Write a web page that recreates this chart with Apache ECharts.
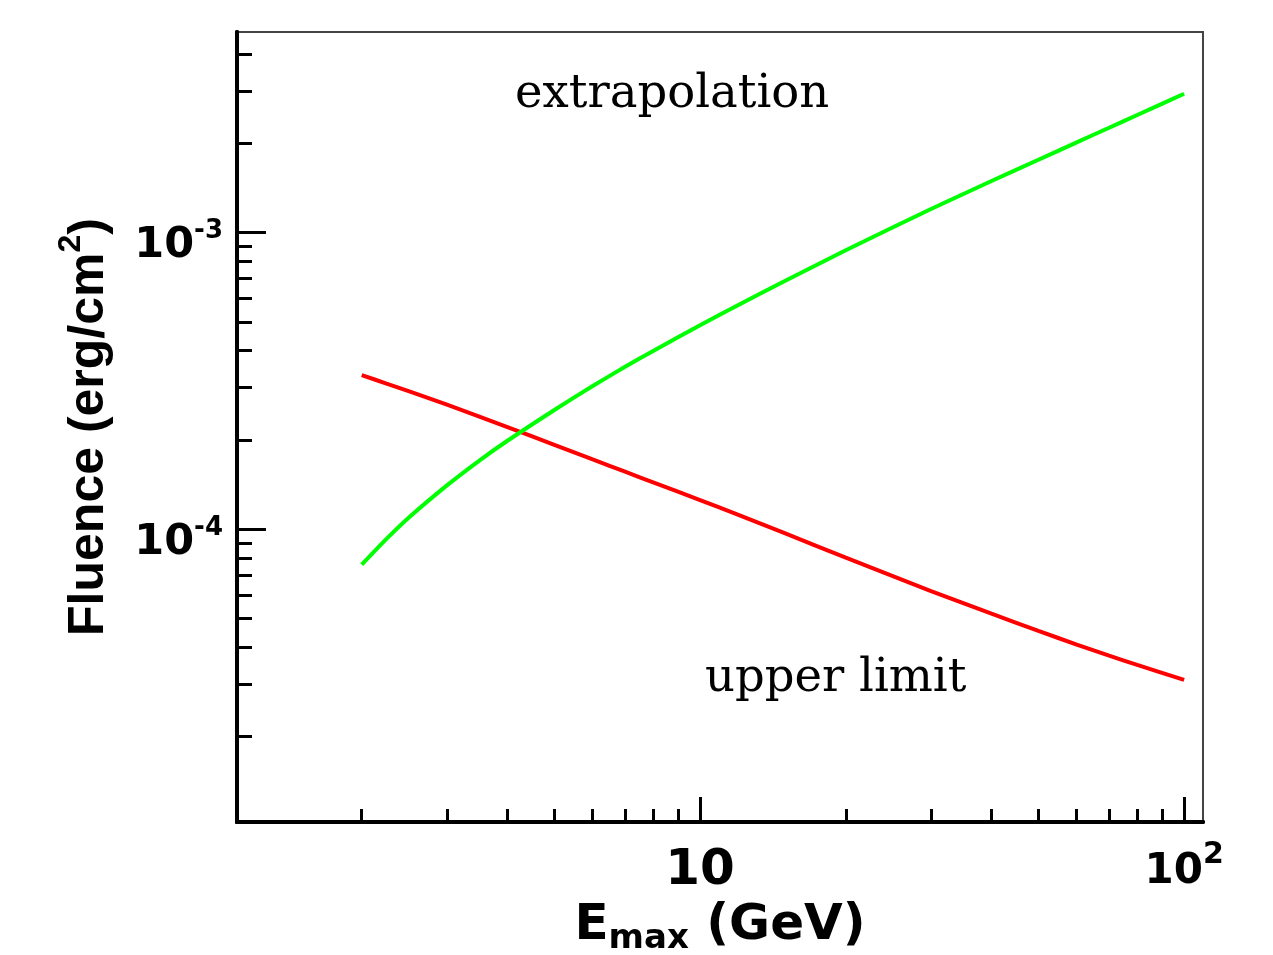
<!DOCTYPE html>
<html>
<head>
<meta charset="utf-8">
<title>Fluence vs Emax</title>
<script src="https://cdn.jsdelivr.net/npm/echarts@6/dist/echarts.min.js"></script>
<style>
  html, body { margin: 0; padding: 0; background: #fff; }
  #main { width: 1273px; height: 955px; }
</style>
</head>
<body>
<div id="main"></div>
<script>
  // E_max (GeV)
  var energy = [2, 2.25, 2.5, 3, 3.5, 4, 5, 6, 7, 8, 10, 12, 15, 20, 30, 40, 50, 60, 70, 80, 100];
  // fluence (erg/cm^2)
  var extrapolation = [7.60e-5, 9.28e-5, 1.094e-4, 1.406e-4, 1.705e-4, 1.988e-4, 2.525e-4, 3.04e-4, 3.53e-4, 3.99e-4,
    4.875e-4, 5.70e-4, 6.887e-4, 8.72e-4, 1.201e-3, 1.493e-3, 1.76e-3, 2.015e-3, 2.258e-3, 2.492e-3, 2.94e-3];
  var upperLimit = [3.31e-4, 3.10e-4, 2.924e-4, 2.63e-4, 2.399e-4, 2.211e-4, 1.925e-4, 1.719e-4, 1.563e-4, 1.44e-4,
    1.255e-4, 1.119e-4, 9.68e-5, 8.03e-5, 6.19e-5, 5.195e-5, 4.544e-5, 4.088e-5, 3.75e-5, 3.49e-5, 3.108e-5];

  // axis ranges and tick values
  var xRange = [1.105, 109.4];
  var yRange = [1.031e-5, 4.746e-3];
  var xMajor = [10, 100];
  var xMinor = [2, 3, 4, 5, 6, 7, 8, 9, 20, 30, 40, 50, 60, 70, 80, 90];
  var yMajor = [1e-4, 1e-3];
  var yMinor = [2e-5, 3e-5, 4e-5, 5e-5, 6e-5, 7e-5, 8e-5, 9e-5,
    2e-4, 3e-4, 4e-4, 5e-4, 6e-4, 7e-4, 8e-4, 9e-4, 2e-3, 3e-3, 4e-3];

  var lg = function (v) { return Math.log10(v); };
  var pairs = function (ys) { return energy.map(function (e, i) { return [e, ys[i]]; }); };

  var hidden = { show: false };
  var bold = 'DejaVu Sans';

  // ticks are drawn on value axes that run in log10 units over the same range
  function decoAxis(range, pos, values, len, labels, extra) {
    var ax = {
      type: 'value', gridIndex: 0, position: pos,
      min: lg(range[0]), max: lg(range[1]),
      splitLine: hidden,
      axisLine: { show: true, lineStyle: { color: '#000', width: 4 } },
      axisTick: { show: true, inside: true, length: len, customValues: values.map(lg),
        lineStyle: { color: '#000', width: 3 } },
      axisLabel: labels ? labels : hidden
    };
    return Object.assign(ax, extra || {});
  }

  var chart = echarts.init(document.getElementById('main'));
  chart.setOption({
    backgroundColor: '#fff',
    animation: false,
    grid: {
      left: 237, top: 32, width: 966, height: 790,
      show: true, borderColor: '#444', borderWidth: 2, backgroundColor: '#fff',
      outerBoundsMode: 'none', containLabel: false
    },
    xAxis: [
      { type: 'log', min: xRange[0], max: xRange[1], axisLine: hidden, axisTick: hidden,
        axisLabel: hidden, splitLine: hidden },
      decoAxis(xRange, 'bottom', xMajor, 25, {
        show: true, customValues: xMajor.map(lg), margin: 18, color: '#000',
        fontFamily: bold, fontWeight: 'bold',
        formatter: function (v) {
          var p = Math.round(v);
          return p === 1 ? '{a|10}' : '{b|10}{s|' + p + '}';
        },
        rich: {
          a: { fontSize: 50, lineHeight: 62, fontFamily: bold, fontWeight: 'bold', color: '#000' },
          b: { fontSize: 42, lineHeight: 53, verticalAlign: 'bottom', fontFamily: bold, fontWeight: 'bold', color: '#000' },
          s: { fontSize: 30, verticalAlign: 'top', fontFamily: bold, fontWeight: 'bold', color: '#000' }
        }
      }, {
        name: '{e|E}{sub|max}{e| (GeV)}', nameLocation: 'middle', nameGap: 78,
        nameTextStyle: {
          rich: {
            e: { fontSize: 50, lineHeight: 55, verticalAlign: 'top', fontFamily: bold, fontWeight: 'bold', color: '#000' },
            sub: { fontSize: 34, verticalAlign: 'bottom', fontFamily: bold, fontWeight: 'bold', color: '#000' }
          }
        }
      }),
      decoAxis(xRange, 'bottom', xMinor, 13, null)
    ],
    yAxis: [
      { type: 'log', min: yRange[0], max: yRange[1], axisLine: hidden, axisTick: hidden,
        axisLabel: hidden, splitLine: hidden },
      decoAxis(yRange, 'left', yMajor, 29, {
        show: true, customValues: yMajor.map(lg), margin: 14, color: '#000',
        padding: [21, 0, 0, 0],
        formatter: function (v) { return '{b|10}{s|' + Math.round(v) + '}'; },
        rich: {
          b: { fontSize: 43, lineHeight: 49, verticalAlign: 'bottom', fontFamily: bold, fontWeight: 'bold', color: '#000' },
          s: { fontSize: 26, verticalAlign: 'top', fontFamily: bold, fontWeight: 'bold', color: '#000' }
        }
      }, {
        name: '{m|Fluence (erg/cm}{p|2}{m|)}', nameLocation: 'middle', nameGap: 123,
        nameTextStyle: {
          rich: {
            m: { fontSize: 50, lineHeight: 59, verticalAlign: 'bottom', fontFamily: 'Liberation Sans', fontWeight: 'bold', color: '#000' },
            p: { fontSize: 32, verticalAlign: 'top', fontFamily: 'Liberation Sans', fontWeight: 'bold', color: '#000' }
          }
        }
      }),
      decoAxis(yRange, 'left', yMinor, 15, null)
    ],
    series: [
      {
        name: 'extrapolation', type: 'line', xAxisIndex: 0, yAxisIndex: 0,
        data: pairs(extrapolation), showSymbol: false, smooth: 0.2,
        lineStyle: { color: '#00ff00', width: 4 }, z: 3
      },
      {
        name: 'upper limit', type: 'line', xAxisIndex: 0, yAxisIndex: 0,
        data: pairs(upperLimit), showSymbol: false, smooth: 0.2,
        lineStyle: { color: '#ff0000', width: 4 }, z: 2
      }
    ],
    graphic: [
      { type: 'text', left: 515, top: 71,
        style: { text: 'extrapolation', font: '46.5px "DejaVu Serif"', fill: '#000' } },
      { type: 'text', left: 705, top: 655,
        style: { text: 'upper limit', font: '46.5px "DejaVu Serif"', fill: '#000' } }
    ]
  });
</script>
</body>
</html>
